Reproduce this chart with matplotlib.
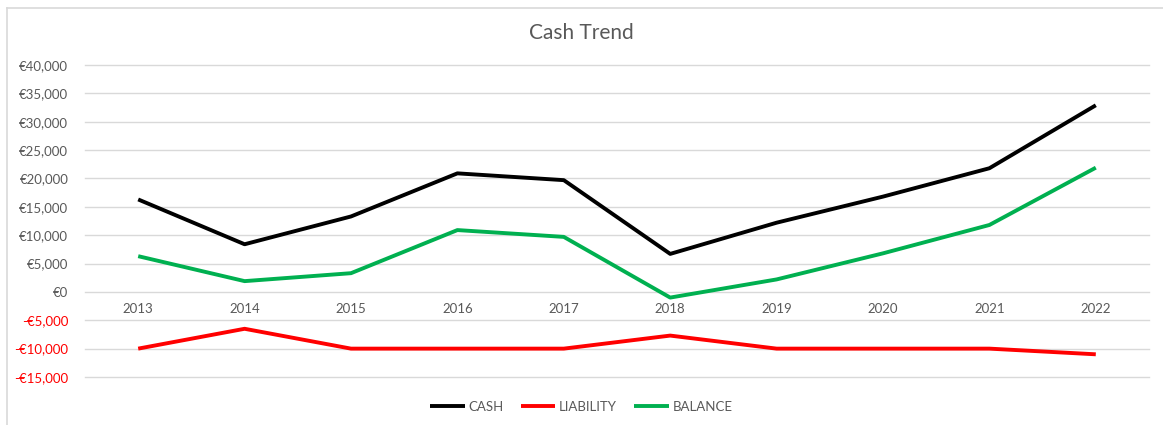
import matplotlib
matplotlib.use("Agg")
from matplotlib import pyplot as plt
from matplotlib.lines import Line2D
from matplotlib.ticker import FuncFormatter, MultipleLocator

# Cash trend data
years = ['2013', '2014', '2015', '2016', '2017', '2018', '2019', '2020', '2021', '2022']
cash = [16300, 8400, 13300, 20900, 19700, 6700, 12200, 16800, 21800, 32900]
liability = [-10000, -6500, -10000, -10000, -10000, -7700, -10000, -10000, -10000, -11000]
balance = [6300, 1900, 3300, 10900, 9700, -1000, 2200, 6800, 11800, 21900]

plt.rcParams['font.family'] = ['Lato', 'DejaVu Sans']
grey = '#595959'

fig = plt.figure(figsize=(11.63, 4.25), dpi=100)
ax = fig.add_axes([85 / 1163, 1 - 377 / 425, 1064 / 1163, 312 / 425])

x = list(range(len(years)))
ax.plot(x, cash, color='black', lw=2.8, label='CASH', solid_capstyle='butt')
ax.plot(x, liability, color='#ff0000', lw=2.8, label='LIABILITY', solid_capstyle='butt')
ax.plot(x, balance, color='#00b050', lw=2.8, label='BALANCE', solid_capstyle='butt')

ax.set_xlim(-0.5, len(years) - 0.5)
ax.set_ylim(-15000, 40000)
ax.yaxis.set_major_locator(MultipleLocator(5000))


def euro(v, pos):
    if v < 0:
        return '-€{:,.0f}'.format(-v)
    return '€{:,.0f}'.format(v)


ax.yaxis.set_major_formatter(FuncFormatter(euro))
ax.grid(axis='y', color='#d9d9d9', lw=1)
ax.set_axisbelow(True)
for s in ax.spines.values():
    s.set_visible(False)
ax.spines['bottom'].set_position(('data', 0))

ax.set_xticks(x)
ax.set_xticklabels(years)
ax.tick_params(axis='x', length=0, pad=8, labelsize=9.5, labelcolor=grey)
ax.tick_params(axis='y', length=0, pad=12, labelsize=9.5, labelcolor=grey)
for lab, val in zip(ax.get_yticklabels(), ax.get_yticks()):
    if val < 0:
        lab.set_color('#ff0000')
for gl in ax.get_ygridlines():
    gl.set_clip_on(False)

fig.text(0.5, 1 - 33 / 425, 'Cash Trend', ha='center', va='center', fontsize=15, color=grey)

leg = fig.legend(loc='center', bbox_to_anchor=(0.5, 1 - 407 / 425), ncol=3, frameon=False,
                 fontsize=9.5, handlelength=2.6, handletextpad=0.3, columnspacing=1.3)
for t in leg.get_texts():
    t.set_color(grey)

# light chart border (left and top edges are visible)
fig.add_artist(Line2D([6.5 / 1163, 6.5 / 1163], [0, 1 - 8 / 425], color='#d9d9d9', lw=1.2,
                      transform=fig.transFigure))
fig.add_artist(Line2D([6.5 / 1163, 1], [1 - 8 / 425, 1 - 8 / 425], color='#d9d9d9', lw=1.2,
                      transform=fig.transFigure))

fig.savefig('out.png', dpi=100)
